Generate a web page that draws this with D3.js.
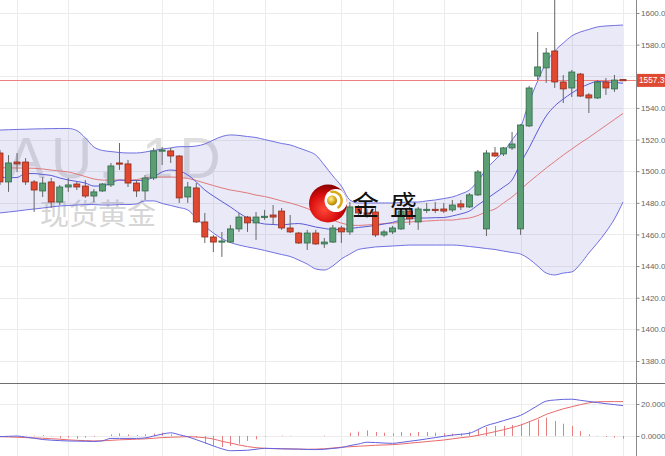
<!DOCTYPE html>
<html><head><meta charset="utf-8">
<script src="https://cdn.jsdelivr.net/npm/d3@7"></script>
<style>html,body{margin:0;padding:0;background:#fff;overflow:hidden}svg{display:block}</style>
</head><body><div id="chart"></div>
<script>
// ---- data (daily candles, XAU 1D) ----
const openP = [1511.5,1493.2,1505.8,1505.8,1493.2,1487.5,1493.2,1480.5,1490.0,1491.9,1490.6,1484.3,1487.5,1491.3,1505.2,1504.6,1492.5,1487.5,1495.7,1512.8,1512.8,1509.6,1483.7,1489.4,1467.9,1458.4,1455.2,1455.2,1463.5,1471.0,1467.3,1471.0,1472.3,1474.8,1464.1,1460.9,1454.6,1460.9,1454.0,1455.2,1464.1,1461.6,1477.4,1473.6,1474.2,1459.7,1461.6,1463.5,1474.8,1467.9,1475.5,1475.9,1476.1,1475.5,1479.3,1477.4,1485.0,1463.5,1511.5,1510.9,1514.7,1463.5,1528.6,1560.2,1565.3,1576.0,1556.4,1552.6,1561.4,1548.2,1546.3,1556.4,1552.0,1557.9];
const highP = [1513.4,1510.2,1511.5,1508.3,1494.4,1496.3,1495.7,1491.3,1495.7,1493.2,1494.4,1488.7,1492.5,1505.2,1517.8,1507.1,1494.4,1497.6,1514.7,1515.3,1514.7,1510.2,1493.2,1492.5,1473.6,1459.7,1461.6,1466.0,1473.6,1471.7,1474.2,1475.5,1478.6,1476.7,1472.3,1461.6,1462.9,1462.9,1457.8,1466.0,1465.4,1480.5,1478.6,1476.0,1476.7,1462.9,1465.4,1476.7,1477.4,1477.4,1479.9,1480.5,1479.9,1481.8,1481.8,1486.2,1500.8,1513.4,1515.3,1515.3,1524.8,1529.8,1553.9,1588.0,1577.9,1611.0,1560.8,1564.0,1562.1,1549.4,1557.6,1558.9,1560.8,1558.2];
const lowP = [1491.3,1486.9,1499.5,1491.3,1474.2,1483.7,1476.7,1478.6,1486.9,1488.1,1483.1,1480.5,1486.9,1490.0,1500.8,1490.0,1483.7,1481.8,1494.4,1503.9,1505.2,1479.9,1479.9,1467.3,1454.6,1448.9,1445.8,1454.6,1461.6,1461.6,1456.5,1469.2,1466.0,1462.9,1460.9,1454.0,1450.2,1453.4,1451.5,1454.6,1454.6,1459.7,1472.3,1470.5,1458.4,1458.4,1460.3,1462.9,1466.0,1462.9,1473.6,1473.6,1473.6,1474.2,1475.5,1476.7,1484.3,1459.0,1509.0,1509.6,1513.4,1459.7,1527.9,1557.6,1555.8,1552.6,1543.1,1546.9,1546.9,1536.8,1545.6,1548.2,1550.1,1557.0];
const closeP = [1493.2,1505.2,1504.6,1493.2,1488.1,1492.5,1480.5,1490.0,1491.3,1490.0,1484.3,1486.9,1491.9,1503.3,1504.6,1492.5,1487.5,1495.7,1512.8,1513.4,1509.6,1483.1,1490.0,1467.9,1458.4,1455.2,1455.9,1463.5,1471.0,1467.3,1471.0,1471.5,1471.0,1464.1,1461.6,1454.6,1460.9,1454.0,1455.2,1464.1,1461.6,1477.4,1473.6,1472.8,1459.7,1461.6,1464.1,1474.8,1469.8,1476.1,1475.9,1475.5,1474.8,1478.6,1477.4,1485.0,1499.5,1511.5,1509.6,1514.7,1517.2,1529.2,1552.6,1565.9,1574.7,1556.4,1552.0,1562.7,1547.5,1546.3,1556.4,1552.6,1557.6,1557.39];

const bbUpper = [1526.0,1526.2,1526.4,1526.5,1526.7,1526.8,1526.9,1527.0,1527.0,1525.7,1521.0,1515.3,1513.1,1512.4,1511.8,1511.5,1511.5,1512.1,1513.1,1514.0,1514.7,1515.5,1515.5,1515.9,1517.2,1519.7,1521.9,1522.9,1522.6,1521.9,1521.3,1520.0,1518.8,1517.5,1516.6,1514.7,1512.8,1510.2,1503.9,1497.0,1490.6,1481.8,1479.9,1479.9,1479.9,1479.9,1479.9,1480.2,1480.5,1480.5,1481.2,1481.8,1482.7,1483.7,1485.6,1488.1,1493.8,1501.4,1507.1,1512.4,1519.7,1527.9,1543.7,1557.0,1568.7,1576.0,1581.0,1585.5,1588.0,1589.6,1591.2,1591.8,1592.1,1592.4];
const bbLower = [1473.6,1474.2,1474.8,1475.5,1476.1,1476.7,1477.4,1478.0,1478.3,1478.6,1478.9,1478.9,1478.6,1478.6,1478.9,1478.9,1479.3,1481.2,1481.2,1479.6,1478.3,1477.0,1475.5,1470.4,1465.3,1460.9,1457.4,1454.9,1453.3,1452.1,1451.1,1449.9,1448.6,1447.3,1446.1,1443.8,1441.3,1438.2,1437.5,1440.1,1444.5,1447.6,1450.5,1451.4,1452.1,1452.4,1452.7,1453.0,1453.3,1453.3,1453.3,1453.3,1453.3,1453.3,1453.0,1452.4,1451.8,1451.1,1450.5,1449.5,1448.6,1447.6,1444.5,1440.1,1435.6,1434.4,1435.6,1436.3,1441.3,1448.3,1454.6,1461.6,1469.8,1480.5];
const maSlow = [1502.2,1502.1,1502.0,1502.0,1501.8,1501.4,1500.7,1500.1,1499.5,1498.2,1496.6,1495.1,1494.4,1494.4,1494.4,1494.4,1494.7,1495.7,1496.3,1496.3,1496.3,1496.0,1495.4,1494.1,1492.5,1490.9,1489.4,1488.1,1487.2,1486.2,1484.9,1484.0,1482.7,1481.2,1479.9,1478.3,1476.4,1474.2,1471.7,1469.1,1467.2,1466.0,1465.7,1466.0,1466.3,1466.9,1467.2,1467.6,1467.9,1468.2,1468.5,1468.8,1469.1,1469.1,1469.8,1470.4,1472.0,1474.4,1476.1,1479.9,1483.7,1488.4,1493.2,1497.6,1502.0,1506.1,1510.2,1514.0,1517.8,1521.3,1525.1,1528.9,1532.7,1536.5];
const maFast = [1496.5,1495.8,1496.0,1498.5,1498.5,1497.9,1497.3,1495.7,1494.4,1493.5,1492.5,1490.6,1490.6,1492.5,1494.4,1494.1,1494.1,1494.4,1496.3,1499.5,1500.7,1500.1,1497.6,1493.2,1488.1,1484.3,1480.8,1477.4,1473.6,1470.4,1467.9,1466.6,1466.3,1466.0,1466.6,1466.9,1466.0,1464.7,1463.8,1463.1,1463.1,1463.8,1464.4,1465.0,1465.7,1466.6,1467.6,1469.1,1470.1,1470.4,1470.4,1470.6,1470.7,1471.7,1473.0,1474.8,1478.6,1482.4,1486.2,1490.0,1494.4,1505.2,1514.7,1525.4,1534.9,1541.2,1545.6,1549.4,1552.6,1555.1,1556.7,1556.4,1556.1,1555.6];

const macdLine = [-0.4,-0.2,0,-0.7,-1.4,-2.2,-2.6,-2.9,-3.1,-3.2,-3.3,-3.4,-3.0,-1.5,-1.5,-1.5,-1.5,-1.2,0.0,1.2,2.0,0.8,-0.5,-2.3,-4.2,-6.2,-8.0,-9.2,-9.1,-8.9,-8.3,-7.7,-7.8,-8.0,-8.1,-8.2,-8.4,-8.5,-8.3,-7.8,-7.2,-6.0,-5.0,-3.9,-4.1,-4.4,-4.6,-4.0,-3.3,-2.6,-1.8,-1.0,-0.2,0.6,1.1,1.7,4.0,6.5,8.0,9.6,11.2,12.9,15.8,19.0,21.8,22.5,22.9,23.0,22.3,21.6,20.9,20.2,19.6,19.0];
const signalLine = [-0.4,-0.6,-0.8,-1.0,-1.2,-1.4,-1.7,-2.0,-2.4,-2.7,-2.9,-3.1,-3.0,-2.7,-2.4,-2.2,-2.0,-1.8,-1.4,-1.0,-0.8,-0.6,-0.4,-0.6,-1.1,-1.9,-3.3,-4.4,-5.6,-6.6,-7.3,-7.7,-7.9,-8.0,-8.1,-8.2,-8.3,-8.2,-8.0,-7.5,-7.0,-6.7,-6.4,-6.1,-5.8,-5.6,-5.4,-5.0,-4.5,-4.0,-3.5,-3.0,-2.5,-1.8,-1.1,-0.5,0.4,1.5,2.7,3.9,5.3,6.8,8.9,11.0,13.5,15.3,17.0,18.3,19.6,20.7,21.4,21.5,21.5,21.5];
const macdHist = [0,0,0,0.2,0.3,0.5,-0.3,-1.5,-1.0,-1.7,-1.0,-0.5,0,1.0,1.7,1.0,0.6,1.0,1.5,2.1,1.0,0,-0.5,-1.0,-4.8,-6.2,-6.9,-6.2,-4.8,-3.1,-2.1,-0.4,0,0.3,0.2,0,0,0,0.3,0,0,2.1,2.7,3.5,2.5,2.1,1.7,2.5,1.9,2.5,2.5,2.1,1.7,1.5,1.5,2.7,4.2,5.6,6.3,6.3,6.9,7.7,9.0,10.4,11.5,9.4,7.7,6.3,3.1,1.0,0.2,-0.6,-1.0,-1.7];

const priceTicks = [1380,1400,1420,1440,1460,1480,1500,1520,1540,1560,1580,1600];
const macdTicks = [20, 0];
const macdTickLabels = ["20.000", "0.0000"];
const gridCandles = [2,8,19,25,31,40,46,52,61,67,73];
const lastPrice = 1557.39;
const watermark = "XAU, 1D";
const watermarkSub = "现货黄金";
const brandChars = ["金","盛"];

// ---- layout ----
const W = 665, H = 456;
const axisX = 636, sepY = 383;
const n = closeP.length;
const idx = d3.range(n);

const x = d3.scaleLinear().domain([0, n - 1]).range([0, 623]);
const y = d3.scaleLinear().domain([1380, 1600]).range([361, 13]);
const ym = d3.scaleLinear().domain([0, 20]).range([436, 404]);

const svg = d3.select("#chart").append("svg").attr("width", W).attr("height", H)
  .style("font-family", "'Liberation Sans', Arial, sans-serif");

const defs = svg.append("defs");
defs.append("clipPath").attr("id", "mainClip").append("rect").attr("x", 0).attr("y", 0).attr("width", axisX).attr("height", sepY);
defs.append("clipPath").attr("id", "macdClip").append("rect").attr("x", 0).attr("y", sepY + 1).attr("width", axisX).attr("height", H - sepY - 1);

const gridColor = "#ececec";

// grid
const grid = svg.append("g");
grid.selectAll("line.h").data(priceTicks).join("line")
  .attr("x1", 0).attr("x2", axisX).attr("y1", d => Math.round(y(d)) + 0.5).attr("y2", d => Math.round(y(d)) + 0.5)
  .attr("stroke", gridColor);
grid.selectAll("line.m").data(macdTicks).join("line")
  .attr("x1", 0).attr("x2", axisX).attr("y1", d => Math.round(ym(d)) + 0.5).attr("y2", d => Math.round(ym(d)) + 0.5)
  .attr("stroke", gridColor);
grid.selectAll("line.v").data(gridCandles).join("line")
  .attr("x1", d => Math.round(x(d)) + 0.5).attr("x2", d => Math.round(x(d)) + 0.5)
  .attr("y1", 0).attr("y2", H).attr("stroke", gridColor);

// watermark
const main = svg.append("g").attr("clip-path", "url(#mainClip)");
main.append("text").attr("x", -37).attr("y", 178).text(watermark)
  .attr("font-size", 57).attr("letter-spacing", 6).attr("fill", "#dedede");
main.append("text").attr("x", 40).attr("y", 225).text(watermarkSub)
  .attr("font-size", 29).attr("fill", "#d6d6d6")
  .style("font-family", "'Noto Sans CJK SC', sans-serif");

// bollinger
const area = d3.area().x((d, i) => x(i)).y0((d, i) => y(bbLower[i])).y1((d, i) => y(bbUpper[i])).curve(d3.curveMonotoneX);
main.append("path").datum(idx).attr("d", area).attr("fill", "#6a6acf").attr("fill-opacity", 0.15);
const line = arr => d3.line().x((d, i) => x(i)).y(d => y(d)).curve(d3.curveMonotoneX)(arr);
main.append("path").attr("d", line(bbUpper)).attr("fill", "none").attr("stroke", "#7070e0").attr("stroke-width", 1);
main.append("path").attr("d", line(bbLower)).attr("fill", "none").attr("stroke", "#7070e0").attr("stroke-width", 1);
main.append("path").attr("d", line(maSlow)).attr("fill", "none").attr("stroke", "#e07a7a").attr("stroke-width", 1);
main.append("path").attr("d", line(maFast)).attr("fill", "none").attr("stroke", "#5a5ad8").attr("stroke-width", 1);

// last price line
main.append("line").attr("x1", 0).attr("x2", axisX)
  .attr("y1", Math.round(y(lastPrice)) + 0.5).attr("y2", Math.round(y(lastPrice)) + 0.5)
  .attr("stroke", "#ee8080").attr("stroke-width", 1);

// candles
const up = i => closeP[i] >= openP[i];
const cg = main.append("g");
cg.selectAll("line.w").data(idx).join("line")
  .attr("x1", i => x(i)).attr("x2", i => x(i))
  .attr("y1", i => y(highP[i])).attr("y2", i => y(lowP[i]))
  .attr("stroke", "#666").attr("stroke-width", 1);
cg.selectAll("rect").data(idx).join("rect")
  .attr("x", i => x(i) - 3).attr("width", 6)
  .attr("y", i => y(Math.max(openP[i], closeP[i])))
  .attr("height", i => Math.max(1.2, Math.abs(y(openP[i]) - y(closeP[i]))))
  .attr("fill", i => up(i) ? "#5c9e73" : "#e2472f")
  .attr("stroke", i => up(i) ? "#2f6a47" : "#8e2d1c").attr("stroke-width", 0.8);

// MACD panel
const mg = svg.append("g").attr("clip-path", "url(#macdClip)");
mg.selectAll("line.hist").data(idx).join("line")
  .attr("x1", i => Math.round(x(i)) + 0.5).attr("x2", i => Math.round(x(i)) + 0.5)
  .attr("y1", ym(0)).attr("y2", i => ym(macdHist[i]))
  .attr("stroke", "#e88080").attr("stroke-width", 1);
const mline = arr => d3.line().x((d, i) => x(i)).y(d => ym(d)).curve(d3.curveMonotoneX)(arr);
mg.append("path").attr("d", mline(signalLine)).attr("fill", "none").attr("stroke", "#e86a6a").attr("stroke-width", 1);
mg.append("path").attr("d", mline(macdLine)).attr("fill", "none").attr("stroke", "#6262e0").attr("stroke-width", 1);

// logo
const logo = svg.append("g");
const rg = defs.append("radialGradient").attr("id", "redBall").attr("cx", "40%").attr("cy", "65%").attr("r", "65%");
rg.append("stop").attr("offset", "0%").attr("stop-color", "#ff4a3a");
rg.append("stop").attr("offset", "60%").attr("stop-color", "#d80d0d");
rg.append("stop").attr("offset", "100%").attr("stop-color", "#8a0000");
const gg = defs.append("radialGradient").attr("id", "goldBall").attr("cx", "40%").attr("cy", "35%").attr("r", "70%");
gg.append("stop").attr("offset", "0%").attr("stop-color", "#fff1a0");
gg.append("stop").attr("offset", "60%").attr("stop-color", "#d9a916");
gg.append("stop").attr("offset", "100%").attr("stop-color", "#9a7006");
defs.append("clipPath").attr("id", "logoClip").append("circle").attr("cx", 328).attr("cy", 203.5).attr("r", 19);
logo.append("circle").attr("cx", 328).attr("cy", 203.5).attr("r", 19).attr("fill", "url(#redBall)");
logo.append("circle").attr("cx", 336).attr("cy", 200.5).attr("r", 11.5).attr("fill", "#fff").attr("clip-path", "url(#logoClip)");
const arc = d3.arc().innerRadius(7.5).outerRadius(10).startAngle(-0.3).endAngle(2.6);
logo.append("path").attr("d", arc()).attr("transform", "translate(333,200.5)").attr("fill", "#d9a916");
logo.append("circle").attr("cx", 332).attr("cy", 200.5).attr("r", 5).attr("fill", "url(#goldBall)");

svg.selectAll("text.brand").data(brandChars).join("text")
  .attr("x", (d, i) => i === 0 ? 352 : 390).attr("y", 215)
  .attr("font-size", 27).attr("fill", "#111")
  .style("font-family", "'Noto Sans CJK SC', sans-serif")
  .text(d => d);

// separator & axis line
svg.append("line").attr("x1", 0).attr("x2", W).attr("y1", sepY + 0.5).attr("y2", sepY + 0.5).attr("stroke", "#6f6f6f");
svg.append("line").attr("x1", axisX + 0.5).attr("x2", axisX + 0.5).attr("y1", 0).attr("y2", H).attr("stroke", "#8a8a8a");

// axes
const ax = svg.append("g").attr("transform", `translate(${axisX + 0.5},0)`)
  .call(d3.axisRight(y).tickValues(priceTicks).tickSize(3).tickPadding(1.5).tickFormat(d3.format(".1f")));
const ax2 = svg.append("g").attr("transform", `translate(${axisX + 0.5},0)`)
  .call(d3.axisRight(ym).tickValues(macdTicks).tickSize(3).tickPadding(1.5).tickFormat((d, i) => macdTickLabels[i]));
[ax, ax2].forEach(a => {
  a.select(".domain").remove();
  a.selectAll(".tick line").attr("stroke", "#888");
  a.selectAll(".tick text").attr("fill", "#666").attr("font-size", 8)
    .style("font-family", "'Liberation Sans', Arial, sans-serif");
});

// last price tag
const tagY = y(lastPrice);
svg.append("rect").attr("x", axisX + 1).attr("y", tagY - 6.5).attr("width", W - axisX).attr("height", 13).attr("fill", "#df4a33");
svg.append("text").attr("x", axisX + 3).attr("y", tagY + 3).text(lastPrice.toFixed(2))
  .attr("font-size", 8.3).attr("fill", "#fff");
</script></body></html>
